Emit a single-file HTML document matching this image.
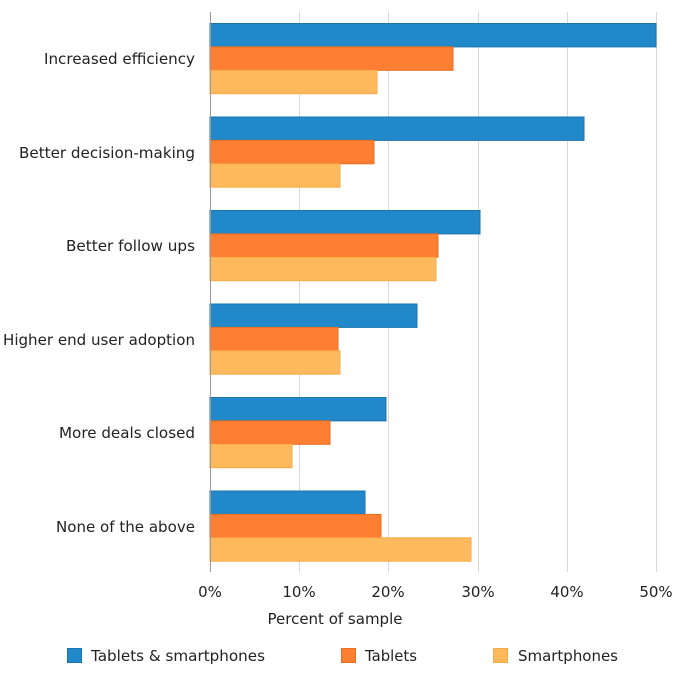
<!DOCTYPE html>
<html><head><style>
html,body{margin:0;padding:0;background:#fff;}
svg{display:block;font-family:"DejaVu Sans","Liberation Sans",sans-serif;font-size:15px;fill:#222;}
</style></head><body>
<svg width="675" height="678" viewBox="0 0 675 678" xmlns="http://www.w3.org/2000/svg">
<g stroke="#d8d8d8" stroke-width="1">
<line x1="299.5" y1="12" x2="299.5" y2="572"/>
<line x1="388.5" y1="12" x2="388.5" y2="572"/>
<line x1="478.5" y1="12" x2="478.5" y2="572"/>
<line x1="567.5" y1="12" x2="567.5" y2="572"/>
<line x1="656.5" y1="12" x2="656.5" y2="572"/>
</g>
<g stroke-width="1">
<g fill="#2188c9" stroke="#1a74ad">
<rect x="210" y="23.5" width="446" height="23.4"/>
<rect x="210" y="117" width="374" height="23.4"/>
<rect x="210" y="210.5" width="270" height="23.4"/>
<rect x="210" y="304" width="207" height="23.4"/>
<rect x="210" y="397.5" width="176" height="23.4"/>
<rect x="210" y="491" width="155" height="23.4"/>
</g>
<g fill="#fe7f31" stroke="#e86e22">
<rect x="210" y="46.9" width="243" height="23.4"/>
<rect x="210" y="140.4" width="164" height="23.4"/>
<rect x="210" y="233.9" width="228" height="23.4"/>
<rect x="210" y="327.4" width="128" height="23.4"/>
<rect x="210" y="420.9" width="120" height="23.4"/>
<rect x="210" y="514.4" width="171" height="23.4"/>
</g>
<g fill="#feb95c" stroke="#f5aa48">
<rect x="210" y="70.3" width="167" height="23.4"/>
<rect x="210" y="163.8" width="130" height="23.4"/>
<rect x="210" y="257.3" width="226" height="23.4"/>
<rect x="210" y="350.8" width="130" height="23.4"/>
<rect x="210" y="444.3" width="82" height="23.4"/>
<rect x="210" y="537.8" width="261" height="23.4"/>
</g>
</g>
<line x1="210.5" y1="12" x2="210.5" y2="572" stroke="#999" stroke-width="1"/>
<g text-anchor="end">
<text x="195" y="64" textLength="151" lengthAdjust="spacingAndGlyphs">Increased efficiency</text>
<text x="195" y="158" textLength="176" lengthAdjust="spacingAndGlyphs">Better decision-making</text>
<text x="195" y="251" textLength="129" lengthAdjust="spacingAndGlyphs">Better follow ups</text>
<text x="195" y="345" textLength="192" lengthAdjust="spacingAndGlyphs">Higher end user adoption</text>
<text x="195" y="438" textLength="136" lengthAdjust="spacingAndGlyphs">More deals closed</text>
<text x="195" y="532" textLength="139" lengthAdjust="spacingAndGlyphs">None of the above</text>
</g>
<g text-anchor="middle">
<text x="210" y="597">0%</text>
<text x="299" y="597">10%</text>
<text x="388" y="597">20%</text>
<text x="478" y="597">30%</text>
<text x="567" y="597">40%</text>
<text x="656" y="597">50%</text>
<text x="335" y="624">Percent of sample</text>
</g>
<rect x="67.5" y="648.5" width="14" height="14" fill="#2188c9" stroke="#1a74ad"/>
<text x="91" y="661" textLength="174" lengthAdjust="spacingAndGlyphs">Tablets &amp; smartphones</text>
<rect x="341.5" y="648.5" width="14" height="14" fill="#fe7f31" stroke="#e86e22"/>
<text x="365" y="661" textLength="52" lengthAdjust="spacingAndGlyphs">Tablets</text>
<rect x="493.5" y="648.5" width="14" height="14" fill="#feb95c" stroke="#f5aa48"/>
<text x="518" y="661" textLength="100" lengthAdjust="spacingAndGlyphs">Smartphones</text>
</svg>
</body></html>
